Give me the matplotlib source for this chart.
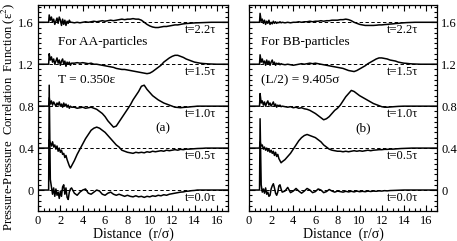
import matplotlib
matplotlib.use("Agg")
import matplotlib.pyplot as plt
import numpy as np
from matplotlib.ticker import MultipleLocator

plt.rcParams['font.family'] = ['Liberation Serif', 'DejaVu Serif']
plt.rcParams['mathtext.fontset'] = 'stix'

# sample distances r/sigma
r = [0.0, 0.95,
     1.0, 1.1, 1.2, 1.3, 1.4, 1.5, 1.6,
     1.7, 1.8, 1.9, 2.0, 2.1, 2.2, 2.3,
     2.4, 2.5, 2.6, 2.7, 2.8, 2.9, 3.0,
     3.25, 3.5, 3.75, 4.0, 4.25, 4.5, 4.75, 5.0,
     5.25, 5.5, 5.75, 6.0, 6.25, 6.5, 6.75, 7.0,
     7.25, 7.5, 7.75, 8.0, 8.25, 8.5, 8.75, 9.0,
     9.25, 9.5, 9.75, 10.0, 10.25, 10.5, 10.75, 11.0,
     11.25, 11.5, 11.75, 12.0, 12.25, 12.5, 12.75, 13.0,
     13.25, 13.5, 13.75, 14.0, 14.25, 14.5, 14.75, 15.0,
     15.25, 15.5, 15.75, 16.0, 16.25, 16.5, 16.75, 17.0]

times = ["t=0.0τ", "t=0.5τ", "t=1.0τ", "t=1.5τ", "t=2.2τ"]
offsets = [0.0, 0.4, 0.8, 1.2, 1.6]

# AA particles (deviation from each curve's baseline)
aa_t00 = [0, 0,
          1.00, 0.10, 0.03, -0.04, 0.02, -0.06, 0.01,
          -0.05, -0.02, -0.08, -0.01, -0.06, 0.03, 0.05,
          -0.04, 0.02, -0.07, -0.09, -0.02, 0.01, 0.02,
          -0.03, -0.05, -0.02, 0.00, 0.01, -0.03, -0.04, -0.02,
          0.00, -0.01, -0.04, -0.05, -0.03, -0.02, -0.04, -0.05,
          -0.04, -0.05, -0.06, -0.05, -0.06, -0.065, -0.055, -0.065,
          -0.06, -0.07, -0.06, -0.065, -0.055, -0.06, -0.05, -0.055,
          -0.045, -0.05, -0.04, -0.035, -0.03, -0.025, -0.02, -0.018,
          -0.012, -0.01, -0.006, -0.004, 0, 0, 0, 0,
          0, 0, 0, 0, 0, 0, 0, 0]
aa_t05 = [0, 0,
          0.08, 0.05, 0.02, 0.06, 0.01, 0.03, -0.01,
          0.02, -0.03, 0.00, -0.04, -0.02, -0.06, -0.05,
          -0.09, -0.07, -0.11, -0.14, -0.17, -0.19, -0.17,
          -0.12, -0.06, -0.01, 0.04, 0.09, 0.13, 0.17, 0.19,
          0.20, 0.19, 0.17, 0.15, 0.12, 0.09, 0.06, 0.03,
          0.01, -0.02, -0.03, -0.04, -0.045, -0.05, -0.04, -0.045,
          -0.04, -0.045, -0.035, -0.04, -0.03, -0.035, -0.03, -0.025,
          -0.03, -0.02, -0.025, -0.02, -0.015, -0.02, -0.012, -0.015,
          -0.01, -0.01, -0.008, -0.006, -0.004, -0.003, -0.002, 0,
          0, 0, 0, 0, 0, 0, 0, 0]
aa_t10 = [0, 0,
          0.08, 0.02, 0.05, 0.01, 0.04, 0.02, 0.00,
          0.03, 0.01, 0.04, 0.00, 0.02, -0.01, 0.03,
          0.00, 0.02, -0.01, 0.01, -0.02, 0.00, -0.01,
          -0.01, -0.02, -0.015, -0.01, -0.02, -0.015, -0.01, -0.02,
          -0.03, -0.05, -0.07, -0.10, -0.14, -0.17, -0.20, -0.19,
          -0.15, -0.11, -0.07, -0.03, 0.01, 0.06, 0.10, 0.14,
          0.19, 0.20, 0.16, 0.13, 0.10, 0.08, 0.06, 0.045,
          0.03, 0.02, 0.01, 0.00, -0.01, -0.012, -0.015, -0.012,
          -0.01, -0.008, -0.005, -0.003, 0, 0, 0, 0,
          0, 0, 0, 0, 0, 0, 0, 0]
aa_t15 = [0, 0,
          0.10, 0.04, 0.07, 0.02, 0.05, 0.00, 0.03,
          0.06, 0.01, 0.04, -0.01, 0.03, 0.05, 0.00,
          0.03, -0.02, 0.02, 0.00, 0.02, -0.01, 0.01,
          0.01, 0.015, 0.01, 0.015, 0.01, 0.005, 0.01, 0.0,
          0.0, -0.005, -0.01, -0.015, -0.02, -0.025, -0.03, -0.04,
          -0.045, -0.05, -0.05, -0.055, -0.06, -0.065, -0.07, -0.075,
          -0.08, -0.085, -0.09, -0.085, -0.07, -0.05, -0.03, -0.01,
          0.02, 0.04, 0.06, 0.075, 0.085, 0.085, 0.075, 0.065,
          0.05, 0.04, 0.03, 0.02, 0.015, 0.01, 0.007, 0.005,
          0.003, 0.002, 0.001, 0, 0, 0, 0, 0]
aa_t22 = [0, 0,
          0.07, 0.02, 0.05, 0.00, 0.03, -0.02, 0.01,
          0.04, -0.01, 0.05, 0.02, -0.03, 0.03, -0.02,
          0.02, -0.03, 0.01, -0.01, 0.02, 0.00, 0.0,
          -0.005, 0.0, -0.005, 0.0, 0.005, 0.0, 0.005, 0.01,
          0.005, 0.01, 0.015, 0.01, 0.015, 0.02, 0.015, 0.02,
          0.025, 0.03, 0.025, 0.03, 0.03, 0.035, 0.03, 0.03,
          0.02, 0.0, -0.02, -0.035, -0.045, -0.05, -0.05, -0.045,
          -0.04, -0.04, -0.035, -0.03, -0.025, -0.025, -0.02, -0.015,
          -0.012, -0.01, -0.008, -0.006, -0.005, -0.004, -0.003, -0.002,
          -0.001, 0, 0, 0, 0, 0, 0, 0]

# BB particles
bb_t00 = [0, 0,
          0.68, 0.05, -0.02, 0.01, -0.03, 0.02, -0.04,
          -0.02, -0.06, -0.05, 0.01, 0.04, 0.06, 0.02,
          -0.03, -0.05, -0.02, 0.04, 0.05, 0.01, -0.02,
          -0.01, 0.025, -0.025, -0.01, 0.015, -0.01, -0.03, -0.01,
          0.015, 0.0, -0.025, -0.015, 0.01, 0.0, -0.025, -0.015,
          0.005, -0.01, -0.02, -0.01, -0.015, -0.02, -0.012, -0.018,
          -0.012, -0.018, -0.01, -0.016, -0.012, -0.016, -0.01, -0.014,
          -0.01, -0.012, -0.008, -0.01, -0.006, -0.008, -0.005, -0.004,
          -0.003, -0.002, -0.001, 0, 0, 0, 0, 0,
          0, 0, 0, 0, 0, 0, 0, 0]
bb_t05 = [0, 0,
          0.06, 0.02, 0.03, -0.01, 0.01, -0.02, 0.0,
          -0.03, -0.01, -0.04, -0.02, -0.05, -0.03, -0.07,
          -0.04, -0.08, -0.06, -0.10, -0.12, -0.14, -0.13,
          -0.11, -0.08, -0.05, -0.01, 0.03, 0.07, 0.10, 0.12,
          0.13, 0.12, 0.11, 0.10, 0.08, 0.06, 0.03, 0.01,
          -0.01, -0.02, -0.025, -0.03, -0.03, -0.035, -0.03, -0.035,
          -0.03, -0.025, -0.03, -0.025, -0.03, -0.025, -0.02, -0.025,
          -0.02, -0.018, -0.015, -0.015, -0.012, -0.012, -0.01, -0.01,
          -0.008, -0.006, -0.004, -0.003, -0.002, -0.001, 0, 0,
          0, 0, 0, 0, 0, 0, 0, 0]
bb_t10 = [0, 0,
          0.12, 0.03, 0.05, 0.01, 0.04, 0.00, 0.03,
          0.05, 0.01, 0.03, 0.00, 0.02, 0.04, 0.00,
          0.02, -0.01, 0.01, 0.00, 0.01, -0.005, 0.0,
          -0.005, -0.01, -0.005, -0.015, -0.01, -0.02, -0.015, -0.025,
          -0.03, -0.04, -0.055, -0.07, -0.09, -0.11, -0.13, -0.12,
          -0.10, -0.07, -0.04, -0.02, 0.01, 0.05, 0.09, 0.12,
          0.15, 0.14, 0.12, 0.10, 0.085, 0.07, 0.055, 0.04,
          0.025, 0.015, 0.005, -0.005, -0.01, -0.01, -0.008, -0.006,
          -0.004, -0.002, -0.001, 0, 0, 0, 0, 0,
          0, 0, 0, 0, 0, 0, 0, 0]
bb_t15 = [0, 0,
          0.09, 0.02, 0.05, 0.01, 0.03, -0.01, 0.04,
          0.00, 0.03, -0.01, 0.02, 0.04, 0.00, 0.02,
          -0.01, 0.01, 0.00, 0.01, -0.005, 0.005, 0.0,
          -0.005, 0.0, -0.005, -0.01, -0.005, 0.0, 0.005, 0.0,
          0.005, 0.01, 0.005, 0.01, 0.005, 0.0, -0.005, -0.01,
          -0.015, -0.02, -0.025, -0.03, -0.035, -0.04, -0.05, -0.06,
          -0.065, -0.07, -0.06, -0.045, -0.03, -0.015, 0.005, 0.02,
          0.035, 0.05, 0.06, 0.06, 0.055, 0.05, 0.04, 0.035,
          0.03, 0.02, 0.015, 0.01, 0.008, 0.005, 0.003, 0.002,
          0.001, 0, 0, 0, 0, 0, 0, 0]
bb_t22 = [0, 0,
          0.085, 0.01, 0.03, -0.01, 0.02, -0.02, 0.01,
          -0.01, 0.02, -0.02, 0.00, -0.015, 0.01, -0.01,
          0.005, -0.01, 0.0, -0.005, 0.005, -0.005, 0.0,
          -0.005, 0.0, -0.005, 0.0, 0.0, 0.005, 0.0, 0.005,
          0.005, 0.01, 0.005, 0.01, 0.01, 0.015, 0.01, 0.015,
          0.015, 0.02, 0.02, 0.02, 0.025, 0.025, 0.03, 0.025,
          0.015, 0.0, -0.01, -0.02, -0.025, -0.03, -0.03, -0.03,
          -0.03, -0.028, -0.025, -0.025, -0.022, -0.02, -0.017, -0.015,
          -0.012, -0.01, -0.007, -0.005, -0.003, -0.002, -0.001, 0,
          0, 0, 0, 0, 0, 0, 0, 0]

aa_curves = [aa_t00, aa_t05, aa_t10, aa_t15, aa_t22]
bb_curves = [bb_t00, bb_t05, bb_t10, bb_t15, bb_t22]

fig = plt.figure(figsize=(4.57, 2.41), dpi=100)
ax1 = fig.add_axes([0.0832, 0.1245, 0.4158, 0.8548])
ax2 = fig.add_axes([0.5449, 0.1245, 0.4114, 0.8548])

panels = [
    (ax1, aa_curves, 14.55, ["For AA-particles", "T = 0.350ε"], 1.76, "(a)", 11.2),
    (ax2, bb_curves, 13.9, ["For BB-particles", "(L/2) = 9.405σ"], 1.1, "(b)", 10.3),
]

for ax, curves, tx, notes, nx, tag, tagx in panels:
    for off, vals, lab in zip(offsets, curves, times):
        ax.plot([1.0, 17], [off, off], color='black', lw=0.7, dashes=(3.5, 2.5))
        ax.plot(r, np.array(vals) + off, color='black', lw=1.1)
        ax.text(tx, off - 0.076, lab, ha='center', va='center', fontsize=9)
    ax.text(nx, 1.41, notes[0], ha='left', va='center', fontsize=9.5)
    ax.text(nx, 1.05, notes[1], ha='left', va='center', fontsize=9.5)
    ax.text(tagx, 0.585, tag, ha='center', va='center', fontsize=9.5)

    ax.set_xlim(0, 17)
    ax.set_ylim(-0.2, 1.765)
    ax.set_xticks([0, 2, 4, 6, 8, 10, 12, 14, 16])
    ax.xaxis.set_minor_locator(MultipleLocator(0.5))
    ax.set_yticks(offsets)
    ax.set_yticklabels(["0", "0.4", "0.8", "1.2", "1.6"])
    ax.yaxis.set_minor_locator(MultipleLocator(0.05))
    ax.tick_params(which='both', direction='in', top=True, right=True, left=True,
                   labelsize=9, width=0.8, pad=3)
    ax.tick_params(which='major', length=4)
    ax.tick_params(which='minor', length=2)
    ax.set_xlabel("Distance  (r/σ)", fontsize=10, labelpad=0)
    for s in ax.spines.values():
        s.set_linewidth(0.9)

ax2.tick_params(labelleft=False, labelright=True)

fig.text(0.018, 0.515, "Pressure-Pressure  Correlation  Function (ε$^2$)",
         rotation=90, ha='center', va='center', fontsize=9.1)

fig.savefig("out.png", dpi=100)
